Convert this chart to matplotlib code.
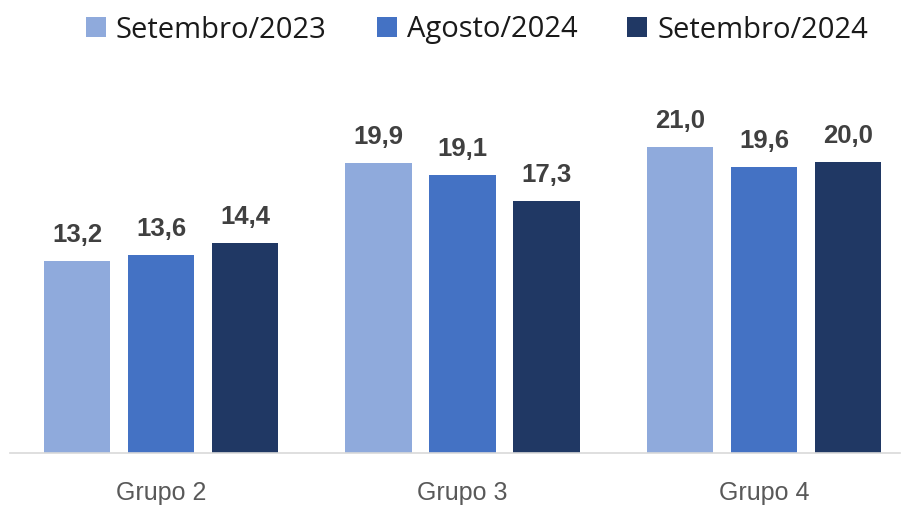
import numpy as np
import matplotlib.pyplot as plt
from matplotlib.patches import Patch

# Data
grupos = ['Grupo 2', 'Grupo 3', 'Grupo 4']
series = ['Setembro/2023', 'Agosto/2024', 'Setembro/2024']
set_2023 = [13.2, 19.9, 21.0]
ago_2024 = [13.6, 19.1, 19.6]
set_2024 = [14.4, 17.3, 20.0]

cores = ['#8FAADC', '#4472C4', '#203864']

fig = plt.figure(figsize=(9.05, 5.07), dpi=100)
ax = fig.add_axes([10 / 905, (507 - 453) / 507, 890 / 905, 393 / 507])

x = np.arange(len(grupos))
width = 0.219
offset = 0.2786

for i, (vals, cor) in enumerate(zip([set_2023, ago_2024, set_2024], cores)):
    pos = x + (i - 1) * offset
    bars = ax.bar(pos, vals, width, color=cor)
    for b, v in zip(bars, vals):
        ax.text(b.get_x() + b.get_width() / 2, v + 1.3, f'{v:.1f}'.replace('.', ','),
                ha='center', va='baseline', fontsize=18.5, fontweight='bold',
                family='Liberation Sans', color='#404040')

ax.set_xlim(-0.5008, 2.451)
ax.set_ylim(0, 26.97)
ax.set_yticks([])
ax.set_xticks(x)
ax.set_xticklabels(grupos, fontsize=18, family='Liberation Sans', color='#595959')
ax.tick_params(axis='x', length=0, pad=20)
for s in ['top', 'right', 'left']:
    ax.spines[s].set_visible(False)
ax.spines['bottom'].set_color('#D9D9D9')
ax.spines['bottom'].set_linewidth(1.2)

handles = [Patch(facecolor=c, label=s) for c, s in zip(cores, series)]
fig.legend(handles=handles, loc='center', bbox_to_anchor=(477 / 905, 1 - 30 / 507),
           ncol=3, frameon=False, handlelength=0.685, handleheight=0.685,
           handletextpad=0.34, columnspacing=1.72,
           prop={'family': 'Open Sans', 'size': 21})
for t in fig.legends[0].get_texts():
    t.set_color('#1A1A1A')

fig.savefig('out.png', dpi=100)
